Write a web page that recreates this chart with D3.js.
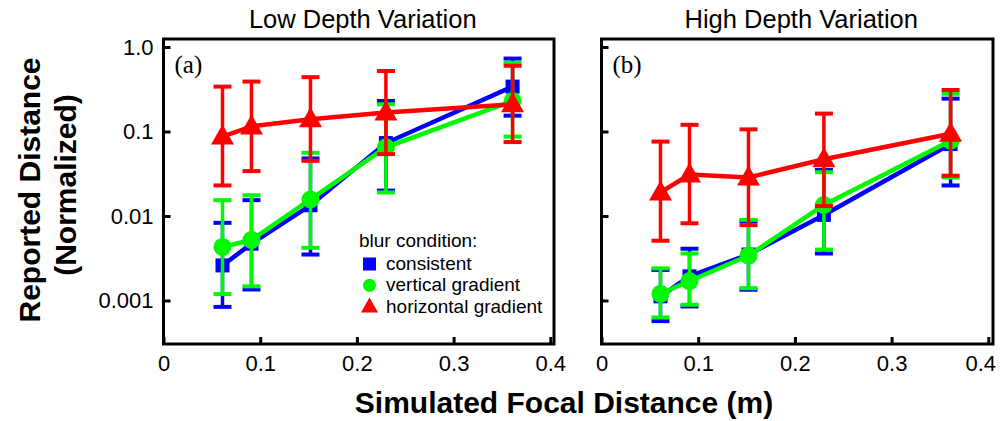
<!DOCTYPE html>
<html>
<head>
<meta charset="utf-8">
<script src="https://cdn.jsdelivr.net/npm/d3@7"></script>
<style>
  body { margin: 0; background: #fff; }
  text { font-family: "Liberation Sans", Arial, sans-serif; }
</style>
</head>
<body>
<div id="vis-svg"></div>
<script>
// values (log scale, normalized reported distance)
var focal = [0.061, 0.091, 0.152, 0.230, 0.361];
var xTicks = [0, 0.1, 0.2, 0.3, 0.4];
var yTicks = [0.001, 0.01, 0.1, 1];
var yTickLabels = ["0.001", "0.01", "0.1", "1.0"];

var consistentLow = [0.0026, 0.0047, 0.0134, 0.073, 0.34];
var consistentLowLo = [0.00084, 0.00135, 0.0035, 0.020, 0.154];
var consistentLowHi = [0.0083, 0.0154, 0.048, 0.23, 0.73];
var verticalLow = [0.0043, 0.0052, 0.0157, 0.065, 0.23];
var verticalLowLo = [0.00119, 0.00147, 0.0042, 0.019, 0.087];
var verticalLowHi = [0.0154, 0.0176, 0.056, 0.21, 0.65];
var horizontalLow = [0.087, 0.115, 0.14, 0.168, 0.21];
var horizontalLowLo = [0.023, 0.034, 0.045, 0.054, 0.075];
var horizontalLowHi = [0.34, 0.39, 0.44, 0.52, 0.6];

var consistentHigh = [0.00112, 0.00193, 0.0035, 0.0103, 0.071];
var consistentHighLo = [0.00057, 0.00085, 0.00134, 0.0036, 0.023];
var consistentHighHi = [0.0023, 0.0041, 0.0087, 0.035, 0.245];
var verticalHigh = [0.0012, 0.0017, 0.0034, 0.0135, 0.078];
var verticalHighLo = [0.00063, 0.00089, 0.0014, 0.004, 0.0286];
var verticalHighHi = [0.0024, 0.0036, 0.009, 0.033, 0.28];
var horizontalHigh = [0.019, 0.031, 0.0286, 0.047, 0.094];
var horizontalHighLo = [0.0051, 0.0082, 0.0078, 0.0131, 0.030];
var horizontalHighHi = [0.076, 0.12, 0.106, 0.163, 0.31];

var legendNames = ["consistent", "vertical gradient", "horizontal gradient"];
var colors = ["#0000ff", "#00f800", "#ff0000"];

var width = 1000;
var height = 421;
var plotTop = 39, plotBottom = 344;

var svg = d3.select("#vis-svg")
  .append("svg")
  .attr("width", width)
  .attr("height", height);

var y = d3.scaleLog()
  .domain([Math.pow(10, -3.515), Math.pow(10, 0.095)])
  .range([plotBottom, plotTop]);

function series(vals, lo, hi) {
  return vals.map(function (v, i) {
    return { x: focal[i], y: v, lo: lo[i], hi: hi[i] };
  });
}

var panels = [
  {
    left: 163.5, right: 554, title: "Low Depth Variation", tag: "(a)", yLabels: true, lastShift: 0,
    data: [
      series(consistentLow, consistentLowLo, consistentLowHi),
      series(verticalLow, verticalLowLo, verticalLowHi),
      series(horizontalLow, horizontalLowLo, horizontalLowHi)
    ]
  },
  {
    left: 601.5, right: 993, title: "High Depth Variation", tag: "(b)", yLabels: false, lastShift: -8,
    data: [
      series(consistentHigh, consistentHighLo, consistentHighHi),
      series(verticalHigh, verticalHighLo, verticalHighHi),
      series(horizontalHigh, horizontalHighLo, horizontalHighHi)
    ]
  }
];

function drawMarker(g, kind, cx, cy, color, s) {
  if (kind === 0) {
    g.append("rect").attr("x", cx - s.sq / 2).attr("y", cy - s.sq / 2)
      .attr("width", s.sq).attr("height", s.sq).attr("fill", color);
  } else if (kind === 1) {
    g.append("circle").attr("cx", cx).attr("cy", cy).attr("r", s.r).attr("fill", color);
  } else {
    var w = s.tw, h = s.th;
    g.append("path")
      .attr("d", "M" + cx + "," + (cy - h * 0.6) + "L" + (cx + w / 2) + "," + (cy + h * 0.4) +
        "L" + (cx - w / 2) + "," + (cy + h * 0.4) + "Z")
      .attr("fill", color);
  }
}

panels.forEach(function (p) {
  var x = d3.scaleLinear()
    .domain([0, 0.4 * (p.right - p.left) / 386.8])
    .range([p.left, p.right]);

  var g = svg.append("g");

  // axes with inward ticks
  var xAxis = g.append("g")
    .attr("transform", "translate(0," + plotBottom + ")")
    .call(d3.axisBottom(x).tickValues(xTicks).tickFormat(d3.format("")).tickSize(-7).tickPadding(11));
  xAxis.select(".domain").remove();
  xAxis.selectAll("line").attr("stroke", "#000").attr("stroke-width", 3);
  xAxis.selectAll("text").attr("font-size", 22).attr("fill", "#000")
    .style("font-family", "'Liberation Sans', Arial, sans-serif")
    .attr("dx", function (d, i) { return i === xTicks.length - 1 ? p.lastShift : 0; });

  var yAxis = g.append("g")
    .attr("transform", "translate(" + p.left + ",0)")
    .call(d3.axisLeft(y).tickValues(yTicks)
      .tickFormat(function (d, i) { return p.yLabels ? yTickLabels[i] : ""; })
      .tickSize(-7).tickPadding(10));
  yAxis.select(".domain").remove();
  yAxis.selectAll("line").attr("stroke", "#000").attr("stroke-width", 3);
  yAxis.selectAll("text").attr("font-size", 22).attr("fill", "#000")
    .style("font-family", "'Liberation Sans', Arial, sans-serif");

  // frame
  g.append("rect")
    .attr("x", p.left).attr("y", plotTop)
    .attr("width", p.right - p.left).attr("height", plotBottom - plotTop)
    .attr("fill", "none").attr("stroke", "#000").attr("stroke-width", 3);

  g.append("text")
    .attr("x", (p.left + p.right) / 2 + 4).attr("y", 28)
    .attr("text-anchor", "middle").attr("font-size", 25.5)
    .text(p.title);

  g.append("text")
    .attr("x", p.left + 11).attr("y", 73)
    .attr("font-size", 25)
    .style("font-family", "'Liberation Serif', 'Times New Roman', serif")
    .text(p.tag);

  var line = d3.line()
    .x(function (d) { return x(d.x); })
    .y(function (d) { return y(d.y); });

  p.data.forEach(function (s, k) {
    var c = colors[k];
    var sg = g.append("g");
    s.forEach(function (d) {
      var cx = x(d.x);
      sg.append("line").attr("x1", cx).attr("x2", cx)
        .attr("y1", y(d.lo)).attr("y2", y(d.hi))
        .attr("stroke", c).attr("stroke-width", 3.5);
      [d.lo, d.hi].forEach(function (v) {
        sg.append("line").attr("x1", cx - 9).attr("x2", cx + 9)
          .attr("y1", y(v)).attr("y2", y(v))
          .attr("stroke", c).attr("stroke-width", 4);
      });
    });
    sg.append("path").datum(s)
      .attr("d", line)
      .attr("fill", "none").attr("stroke", c).attr("stroke-width", 4.5);
    s.forEach(function (d) {
      drawMarker(sg, k, x(d.x), y(d.y), c, { sq: 14, r: 9, tw: 23, th: 20 });
    });
  });
});

// legend inside panel (a)
var leg = svg.append("g");
leg.append("text").attr("x", 359).attr("y", 247).attr("font-size", 19).text("blur condition:");
legendNames.forEach(function (name, i) {
  var cy = 264 + i * 21.3;
  drawMarker(leg, i, 369.5, cy, colors[i], { sq: 13, r: 6.5, tw: 17, th: 15 });
  leg.append("text").attr("x", 386).attr("y", cy + 6).attr("font-size", 19).text(name);
});

// axis titles
svg.append("text")
  .attr("transform", "translate(40,190) rotate(-90)")
  .attr("text-anchor", "middle").attr("font-size", 30).attr("font-weight", "bold")
  .text("Reported Distance");
svg.append("text")
  .attr("transform", "translate(76,185) rotate(-90)")
  .attr("text-anchor", "middle").attr("font-size", 30).attr("font-weight", "bold")
  .text("(Normalized)");
svg.append("text")
  .attr("x", 564).attr("y", 413)
  .attr("text-anchor", "middle").attr("font-size", 30).attr("font-weight", "bold")
  .text("Simulated Focal Distance (m)");
</script>
</body>
</html>
